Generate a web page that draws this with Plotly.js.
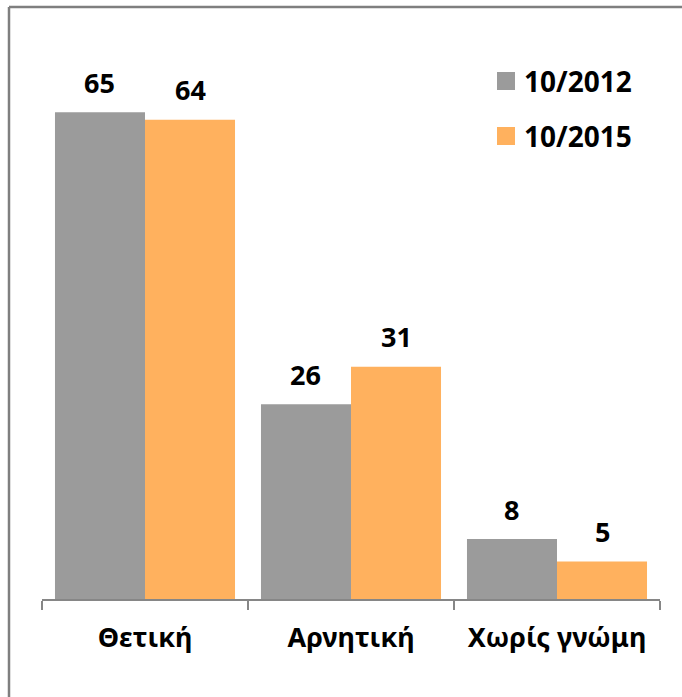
<!DOCTYPE html>
<html>
<head>
<meta charset="utf-8">
<script src="https://cdn.plot.ly/plotly-3.0.1.min.js"></script>
<style>
  html, body { margin: 0; padding: 0; background: #fff; }
  #chart { width: 682px; height: 697px; }
</style>
</head>
<body>
<div id="chart"></div>
<script>
const categories = ["Θετική", "Αρνητική", "Χωρίς γνώμη"];
const seriesNames = ["10/2012", "10/2015"];
const values2012 = [65, 26, 8];
const values2015 = [64, 31, 5];

const W = 682, H = 697;
const M = { l: 42, r: 22, t: 40, b: 98 };
const plotW = W - M.l - M.r, plotH = H - M.t - M.b;
const px = x => (x - M.l) / plotW;          // pixel x -> paper x
const py = y => (H - M.b - y) / plotH;      // pixel y -> paper y

const colors = ["#9B9B9B", "#FFB15E"];
const font = "'Noto Sans', 'Open Sans', sans-serif";
const fs = 27;

const traces = [
  { type: "bar", x: categories, y: values2012, name: seriesNames[0],
    marker: { color: colors[0] }, hoverinfo: "none" },
  { type: "bar", x: categories, y: values2015, name: seriesNames[1],
    marker: { color: colors[1] }, hoverinfo: "none" }
];

const annotations = [];
const off = 0.2185;
[values2012, values2015].forEach((vals, s) => {
  vals.forEach((v, i) => {
    annotations.push({
      x: i + (s === 0 ? -off : off), y: v, xref: "x", yref: "y",
      text: "<b>" + v + "</b>", showarrow: false,
      yanchor: "middle", yshift: 30,
      font: { family: font, size: fs, color: "#000" }
    });
  });
});

// custom legend
const legendItems = [
  { name: seriesNames[0], color: colors[0], cy: 81 },
  { name: seriesNames[1], color: colors[1], cy: 136 }
];
const shapes = [];
legendItems.forEach(it => {
  shapes.push({ type: "rect", xref: "paper", yref: "paper",
    x0: px(497), x1: px(515), y0: py(it.cy + 9), y1: py(it.cy - 9),
    fillcolor: it.color, line: { width: 0 } });
  annotations.push({ xref: "paper", yref: "paper", x: px(522), y: py(it.cy),
    xanchor: "left", yanchor: "middle", showarrow: false,
    text: "<b>" + it.name + "</b>",
    font: { family: font, size: fs + 1, color: "#000" } });
});

// outer border (top and left visible)
shapes.push({ type: "line", xref: "paper", yref: "paper",
  x0: px(9), x1: px(700), y0: py(7), y1: py(7),
  line: { color: "#7F7F7F", width: 2.5 } });
shapes.push({ type: "line", xref: "paper", yref: "paper",
  x0: px(9), x1: px(9), y0: py(7), y1: py(710),
  line: { color: "#7F7F7F", width: 2.5 } });

const layout = {
  width: W, height: H,
  margin: M,
  paper_bgcolor: "#fff", plot_bgcolor: "#fff",
  showlegend: false,
  barmode: "group", bargap: 0.126, bargroupgap: 0,
  font: { family: font, size: fs, color: "#000" },
  xaxis: {
    type: "category",
    showline: true, linecolor: "#868686", linewidth: 1.5,
    ticks: "outside", tickson: "boundaries", ticklen: 9,
    tickcolor: "#868686", tickwidth: 1.5,
    tickfont: { family: font, size: fs, color: "#000", weight: "bold" },
    ticklabelstandoff: 14,
    showgrid: false, zeroline: false, fixedrange: true
  },
  yaxis: {
    range: [0, plotH / 7.49],
    visible: false, showgrid: false, zeroline: false, fixedrange: true
  },
  annotations: annotations,
  shapes: shapes
};

Plotly.newPlot("chart", traces, layout, { displayModeBar: false, staticPlot: true });
</script>
</body>
</html>
